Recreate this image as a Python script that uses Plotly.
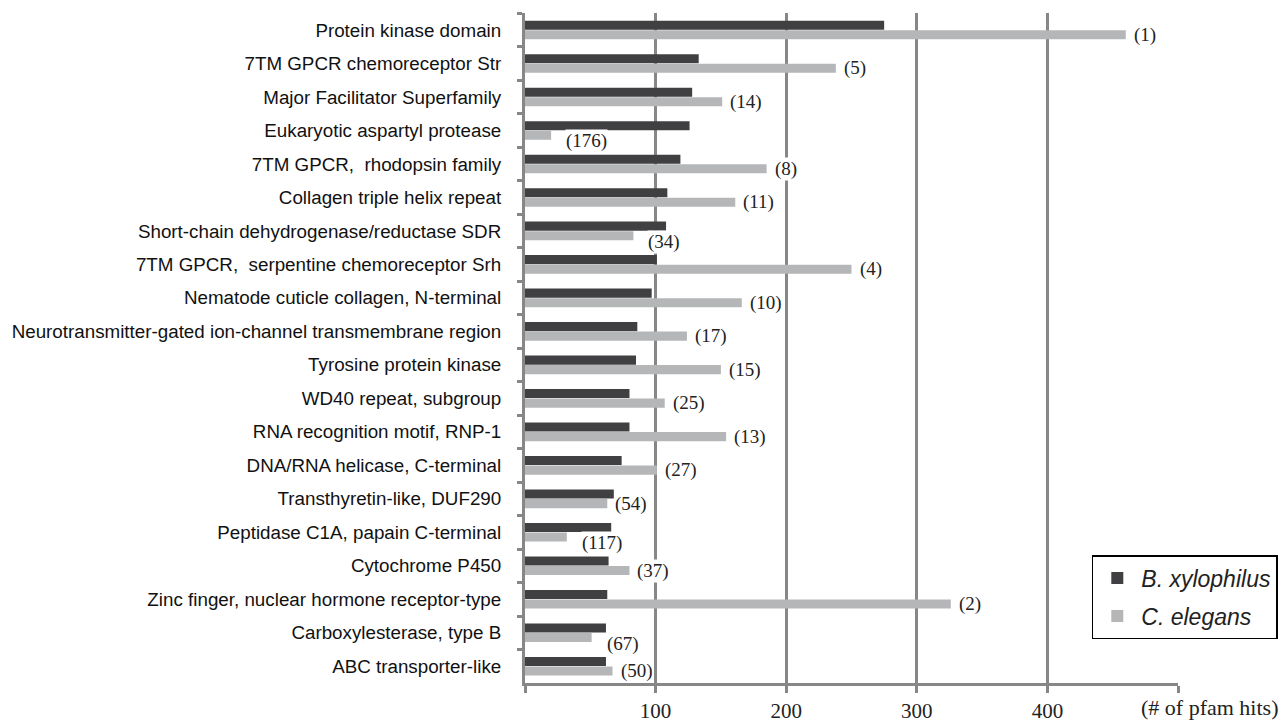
import plotly.graph_objects as go

categories = [
    "Protein kinase domain",
    "7TM GPCR chemoreceptor Str",
    "Major Facilitator Superfamily",
    "Eukaryotic aspartyl protease",
    "7TM GPCR,  rhodopsin family",
    "Collagen triple helix repeat",
    "Short-chain dehydrogenase/reductase SDR",
    "7TM GPCR,  serpentine chemoreceptor Srh",
    "Nematode cuticle collagen, N-terminal",
    "Neurotransmitter-gated ion-channel transmembrane region",
    "Tyrosine protein kinase",
    "WD40 repeat, subgroup",
    "RNA recognition motif, RNP-1",
    "DNA/RNA helicase, C-terminal",
    "Transthyretin-like, DUF290",
    "Peptidase C1A, papain C-terminal",
    "Cytochrome P450",
    "Zinc finger, nuclear hormone receptor-type",
    "Carboxylesterase, type B",
    "ABC transporter-like",
]
b_xylophilus = [275, 133, 128, 126, 119, 109, 108, 101, 97, 86, 85, 80, 80, 74, 68, 66, 64, 63, 62, 62]
c_elegans = [460, 238, 151, 20, 185, 161, 83, 250, 166, 124, 150, 107, 154, 101, 63, 32, 80, 326, 51, 67]
c_elegans_rank = ["(1)", "(5)", "(14)", "(176)", "(8)", "(11)", "(34)", "(4)", "(10)", "(17)",
                  "(15)", "(25)", "(13)", "(27)", "(54)", "(117)", "(37)", "(2)", "(67)", "(50)"]
x_ticks = [100, 200, 300, 400]
x_ends = [0, 500]

DARK = "#404042"
LIGHT = "#b5b6b8"
GRID = "#878787"
SERIF = "Liberation Serif, Times New Roman, serif"
SANS = "Liberation Sans, Arial, sans-serif"

fig = go.Figure()
fig.add_trace(go.Bar(y=categories, x=b_xylophilus, orientation="h", name="B. xylophilus",
                     marker=dict(color=DARK, line=dict(width=0)), legendgroup="a"))
fig.add_trace(go.Bar(y=categories, x=c_elegans, orientation="h", name="C. elegans",
                     marker=dict(color=LIGHT, line=dict(width=0)), legendgroup="b"))

for cat, bx, ce, lab in zip(categories, b_xylophilus, c_elegans, c_elegans_rank):
    overlap = ce < bx - 5
    fig.add_annotation(x=ce, y=cat, xref="x", yref="y", text=lab, showarrow=False,
                       xanchor="left", yanchor="middle", bgcolor="white", borderpad=0,
                       xshift=14 if overlap else 7, yshift=-11 if overlap else -5,
                       font=dict(family=SERIF, size=19, color="#222222"))

fig.add_annotation(x=1.049, y=-0.037, xref="paper", yref="paper", text="(# of pfam hits)",
                   showarrow=False, xanchor="center", yanchor="middle",
                   font=dict(family=SERIF, size=22, color="#222222"))

fig.update_layout(
    width=1279, height=714,
    margin=dict(l=517, r=109, t=5, b=39, autoexpand=False),
    paper_bgcolor="white", plot_bgcolor="white",
    barmode="group", bargap=0.43, bargroupgap=0.05,
    showlegend=True,
    legend=dict(x=0.868, y=0.191, xanchor="left", yanchor="top",
                bgcolor="white", bordercolor="black", borderwidth=1.5,
                traceorder="grouped", tracegroupgap=5, itemwidth=38,
                font=dict(family=SANS, size=23, color="#222222", style="italic")),
    xaxis=dict(range=[0, 500], tickmode="array", tickvals=x_ticks, ticktext=[str(v) for v in x_ticks],
               showgrid=True, gridcolor=GRID, gridwidth=3,
               showline=True, linecolor=GRID, linewidth=3,
               ticks="outside", ticklen=7, tickwidth=3, tickcolor=GRID,
               minor=dict(tickvals=x_ends, ticks="outside", ticklen=7, tickwidth=3, tickcolor=GRID, showgrid=False),
               zeroline=False, ticklabelstandoff=0,
               tickfont=dict(family=SERIF, size=21, color="#222222")),
    yaxis=dict(type="category", autorange="reversed",
               showline=True, linecolor=GRID, linewidth=3,
               ticks="outside", tickson="boundaries", ticklen=5, tickwidth=3, tickcolor=GRID,
               showgrid=False, zeroline=False, ticklabelstandoff=17,
               tickfont=dict(family=SANS, size=18.8, color="#111111")),
)

fig.write_html("out.html")
